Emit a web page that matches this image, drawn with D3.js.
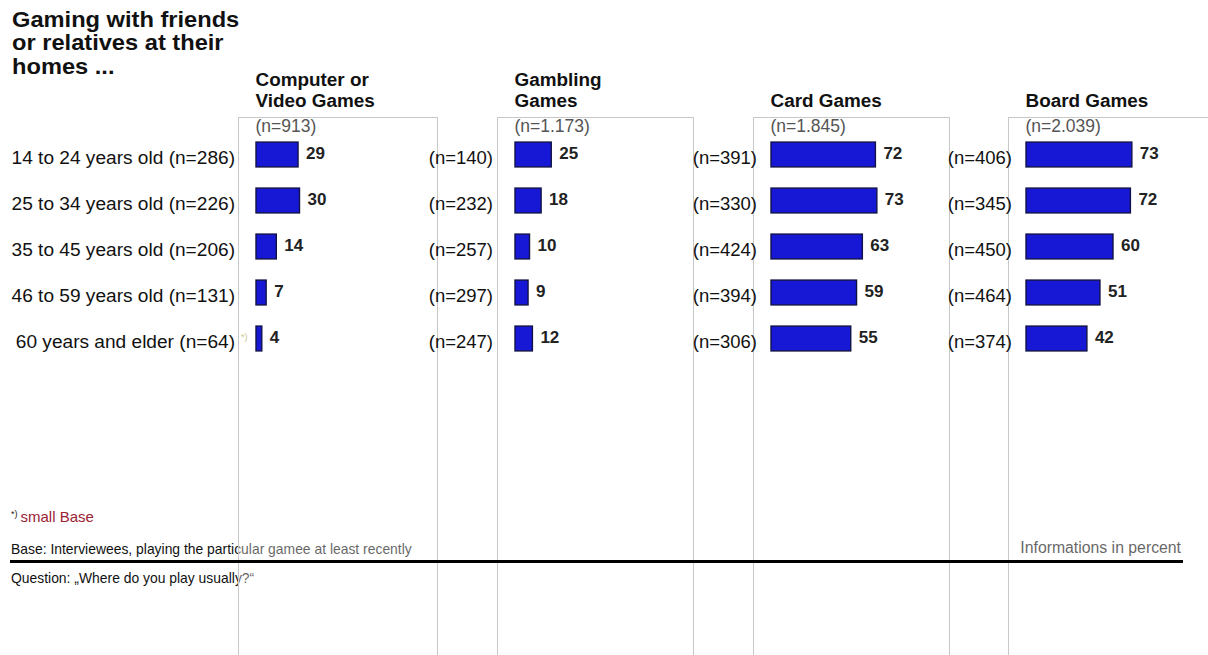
<!DOCTYPE html>
<html>
<head>
<meta charset="utf-8">
<script src="https://cdn.jsdelivr.net/npm/d3@7"></script>
<style>
  html, body { margin: 0; padding: 0; background: #fff; }
  svg { display: block; font-family: "Liberation Sans", Arial, sans-serif; }
</style>
</head>
<body>
<svg id="chart" width="1208" height="655"></svg>
<script>
// Age groups
const ageGroups = [
  "14 to 24 years old",
  "25 to 34 years old",
  "35 to 45 years old",
  "46 to 59 years old",
  "60 years and elder"
];
const gameTypes = ["Computer or Video Games", "Gambling Games", "Card Games", "Board Games"];
const gameTitles = [["Computer or", "Video Games"], ["Gambling", "Games"], ["Card Games"], ["Board Games"]];
const gameTotals = ["913", "1.173", "1.845", "2.039"];

// Base sizes per age group, one array per game type
const nComputer = [286, 226, 206, 131, 64];
const nGambling = [140, 232, 257, 297, 247];
const nCard     = [391, 330, 424, 394, 306];
const nBoard    = [406, 345, 450, 464, 374];

// Share (%) playing at friends' or relatives' homes
const pctComputer = [29, 30, 14, 7, 4];
const pctGambling = [25, 18, 10, 9, 12];
const pctCard     = [72, 73, 63, 59, 55];
const pctBoard    = [73, 72, 60, 51, 42];

const smallBase = [false, false, false, false, true]; // flagged in Computer column

const baseSizes = [nComputer, nGambling, nCard, nBoard];
const shares = [pctComputer, pctGambling, pctCard, pctBoard];

// ---- layout ----
const panelLeft = [238, 497, 753, 1008];
const panelRight = [437, 693, 949, 1230];
const nLabelRight = [235, 493, 757, 1012];
const panelTop = 117;
const barInset = 18;

const svg = d3.select("#chart");

const y = d3.scaleBand()
  .domain(ageGroups)
  .range([131.5, 361.5])
  .paddingInner(0.46)
  .paddingOuter(0.23);

const x = d3.scaleLinear().domain([0, 100]).range([0, 145]);

// Title
const title = svg.append("text")
  .attr("transform", "translate(12,27) scale(1.1,1)")
  .attr("font-weight", "bold").attr("font-size", 21.5).attr("fill", "#111");
["Gaming with friends", "or relatives at their", "homes ..."].forEach((t, i) => {
  title.append("tspan").attr("x", 0).attr("dy", i === 0 ? 0 : 23.5).text(t);
});

// Footnotes (drawn beneath the panels)
const foot = svg.append("g");
const sb = foot.append("text").attr("x", 11).attr("y", 522).attr("font-size", 15);
sb.append("tspan").attr("font-size", 9).attr("dy", -5).attr("fill", "#222").text("*)");
sb.append("tspan").attr("dy", 5).attr("dx", 3).attr("fill", "#9b2335").text("small Base");

foot.append("text").attr("x", 11).attr("y", 554).attr("font-size", 13.9).attr("fill", "#111")
  .text("Base: Interviewees, playing the particular gamee at least recently");
foot.append("text").attr("x", 11).attr("y", 583).attr("font-size", 13.9).attr("fill", "#111")
  .text("Question: \u201EWhere do you play usually?\u201C");
foot.append("text").attr("x", 1181).attr("y", 553).attr("font-size", 15.8).attr("fill", "#111")
  .attr("text-anchor", "end").text("Informations in percent");

// Panels: translucent white cards over the footnotes
svg.append("g").selectAll("rect")
  .data(gameTypes)
  .join("rect")
  .attr("x", (d, i) => panelLeft[i] + 0.5)
  .attr("y", panelTop + 0.5)
  .attr("width", (d, i) => panelRight[i] - panelLeft[i])
  .attr("height", 655)
  .attr("fill", "#fff")
  .attr("fill-opacity", 0.35)
  .attr("stroke", "#c8c8c8")
  .attr("stroke-width", 1);

// Rule line
svg.append("line")
  .attr("x1", 10).attr("x2", 1183).attr("y1", 561.5).attr("y2", 561.5)
  .attr("stroke", "#000").attr("stroke-width", 3);

// Row labels on the far left
svg.append("g").selectAll("text")
  .data(ageGroups)
  .join("text")
  .attr("x", nLabelRight[0])
  .attr("y", d => y(d) + y.bandwidth() / 2 + 9.5)
  .attr("text-anchor", "end")
  .attr("font-size", 19.1)
  .attr("fill", "#111")
  .text((d, i) => `${d} (n=${nComputer[i]})`);

// small-base marker
ageGroups.forEach((d, i) => {
  if (smallBase[i]) {
    svg.append("text")
      .attr("x", 241).attr("y", y(d) + y.bandwidth() / 2 + 1)
      .attr("font-size", 9).attr("fill", "#c9c78a")
      .text("*)");
  }
});

// Panels content
gameTypes.forEach((g, gi) => {
  const left = panelLeft[gi];
  const bx = left + barInset;
  const grp = svg.append("g");

  // Column heading
  const lines = gameTitles[gi];
  lines.forEach((t, li) => {
    grp.append("text")
      .attr("x", bx - 0.5)
      .attr("y", 107 - (lines.length - 1 - li) * 21)
      .attr("font-weight", "bold").attr("font-size", 18.9).attr("fill", "#111")
      .text(t);
  });

  // Column total
  grp.append("text")
    .attr("x", bx - 0.5).attr("y", 131.5)
    .attr("font-size", 17.5).attr("fill", "#555")
    .text(`(n=${gameTotals[gi]})`);

  const rows = ageGroups.map((a, i) => ({ age: a, v: shares[gi][i], n: baseSizes[gi][i] }));

  grp.selectAll("rect.bar")
    .data(rows)
    .join("rect")
    .attr("class", "bar")
    .attr("x", bx)
    .attr("y", d => y(d.age))
    .attr("width", d => x(d.v))
    .attr("height", y.bandwidth())
    .attr("fill", "#1717d6")
    .attr("stroke", "#121247")
    .attr("stroke-width", 1.4);

  grp.selectAll("text.val")
    .data(rows)
    .join("text")
    .attr("class", "val")
    .attr("x", d => bx + x(d.v) + 8)
    .attr("y", d => y(d.age) + y.bandwidth() / 2 + 4.5)
    .attr("font-weight", "bold").attr("font-size", 17).attr("fill", "#222")
    .text(d => d.v);

  if (gi > 0) {
    grp.selectAll("text.n")
      .data(rows)
      .join("text")
      .attr("class", "n")
      .attr("x", nLabelRight[gi])
      .attr("y", d => y(d.age) + y.bandwidth() / 2 + 9.5)
      .attr("text-anchor", "end")
      .attr("font-size", 18.5).attr("fill", "#111")
      .text(d => `(n=${d.n})`);
  }
});
</script>
</body>
</html>
